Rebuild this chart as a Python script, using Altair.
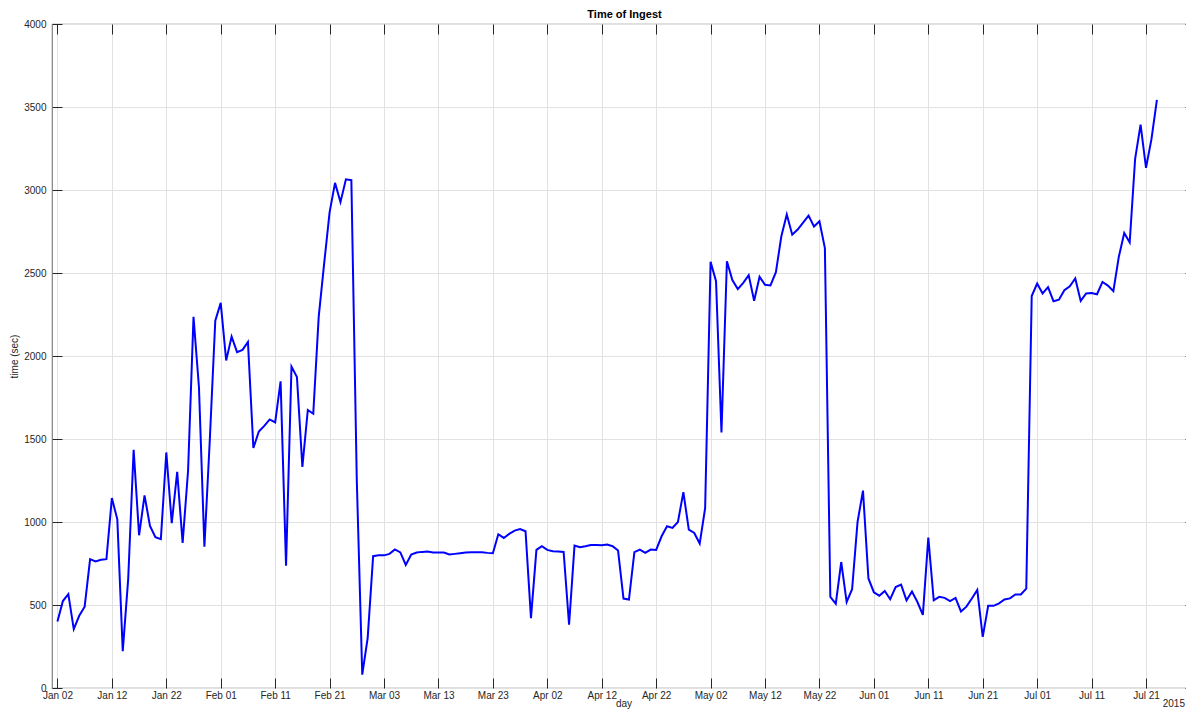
import altair as alt
import pandas as pd

# daily ingest time (sec), 2015
jan_vals = [400, 524, 565, 355, 435, 490, 776, 762, 773, 776, 1144, 1016, 222, 657, 1435,
            920, 1160, 977, 908, 897, 1419, 993, 1302, 874, 1309, 2236, 1812, 851, 1500, 2213]  # Jan 02..31
feb_vals = [2320, 1973, 2117, 2023, 2037, 2085, 1446, 1545, 1579, 1618, 1600, 1847, 737, 1936,
            1874, 1332, 1675, 1652, 2236, 2556, 2865, 3043, 2927, 3064, 3059, 1250, 80, 302]
mar_vals = [794, 799, 799, 808, 835, 817, 741, 804, 816, 820, 822, 816, 816, 816, 804, 808,
            812, 816, 818, 818, 818, 814, 812, 926, 904, 928, 948, 958, 944, 421, 832]
apr_vals = [854, 832, 824, 822, 820, 381, 858, 848, 854, 862, 862, 860, 864, 854, 828, 539,
            533, 818, 834, 814, 834, 832, 914, 974, 964, 1000, 1180, 954, 934, 870]
may_vals = [1084, 2567, 2451, 1539, 2571, 2457, 2403, 2441, 2487, 2333, 2477, 2429, 2425, 2505,
            2721, 2852, 2731, 2762, 2804, 2846, 2780, 2812, 2650, 549, 507, 759, 518, 595,
            1000, 1189, 660]
jun_vals = [577, 556, 585, 535, 608, 623, 528, 581, 518, 440, 906, 528, 549, 543, 524, 543,
            461, 490, 539, 591, 308, 495, 495, 510, 533, 540, 564, 564, 599, 2361]
jul_vals = [2436, 2377, 2415, 2330, 2339, 2396, 2420, 2467, 2332, 2377, 2379, 2372, 2446, 2424,
            2391, 2597, 2741, 2684, 3188, 3394, 3134, 3306, 3543]  # Jul 01..23

months = [(1, 2, jan_vals), (2, 1, feb_vals), (3, 1, mar_vals), (4, 1, apr_vals),
          (5, 1, may_vals), (6, 1, jun_vals), (7, 1, jul_vals)]

x_tick_days = [(1, 2), (1, 12), (1, 22), (2, 1), (2, 11), (2, 21), (3, 3), (3, 13), (3, 23),
               (4, 2), (4, 12), (4, 22), (5, 2), (5, 12), (5, 22), (6, 1), (6, 11), (6, 21),
               (7, 1), (7, 11), (7, 21)]
y_ticks = [0, 500, 1000, 1500, 2000, 2500, 3000, 3500, 4000]

dates, vals = [], []
for m, start, lst in months:
    for i, v in enumerate(lst):
        dates.append(f"2015-{m:02d}-{start + i:02d}")
        vals.append(v)
df = pd.DataFrame({"date": dates, "time": vals})

x_ticks = [alt.DateTime(year=2015, month=m, date=d, utc=True) for m, d in x_tick_days]
x_scale = alt.Scale(type="utc", nice=False,
                    domain=[alt.DateTime(year=2015, month=1, date=1, utc=True),
                            alt.DateTime(year=2015, month=7, date=30, utc=True)])
y_scale = alt.Scale(domain=[0, 4000], nice=False)

FONT = "Liberation Sans"
TXT = "#262626"
W, H = 1143, 664

base = alt.Chart(df)

main = base.mark_line(color="#0000ff", strokeWidth=2).encode(
    x=alt.X("date:T", scale=x_scale,
            axis=alt.Axis(values=x_ticks, format="%b %d", grid=True, ticks=False, tickSize=0,
                          domain=False, labelPadding=2, labelFontSize=10, labelColor=TXT,
                          title="day", titleFontSize=10, titleFontWeight="normal",
                          titleColor=TXT, titlePadding=-2, labelFlush=False)),
    y=alt.Y("time:Q", scale=y_scale,
            axis=alt.Axis(values=y_ticks, format="d", grid=True, ticks=False, tickSize=0,
                          domain=False, labelPadding=6, labelFontSize=10, labelColor=TXT,
                          title="time (sec)", titleFontSize=10, titleFontWeight="normal",
                          titleColor=TXT, titlePadding=4, labelFlush=False)),
)

ticks_bl = base.mark_line(opacity=0).encode(
    x=alt.X("date:T", scale=x_scale,
            axis=alt.Axis(values=x_ticks, orient="bottom", offset=-10, tickSize=10,
                          labels=False, domain=False, grid=False, title="")),
    y=alt.Y("time:Q", scale=y_scale,
            axis=alt.Axis(values=y_ticks, orient="left", offset=-10, tickSize=10,
                          labels=False, domain=False, grid=False, title="")),
)

ticks_tr = base.mark_line(opacity=0).encode(
    x=alt.X("date:T", scale=x_scale,
            axis=alt.Axis(values=x_ticks, orient="top", offset=-10, tickSize=10,
                          labels=False, domain=False, grid=False, title="")),
    y=alt.Y("time:Q", scale=y_scale,
            axis=alt.Axis(values=y_ticks, orient="right", offset=-10, tickSize=10,
                          labels=False, domain=False, grid=False, title="")),
)

year_lbl = alt.Chart(pd.DataFrame({"t": ["2015"]})).mark_text(
    align="right", baseline="alphabetic", font=FONT, fontSize=10, color=TXT
).encode(x=alt.value(1133), y=alt.value(H + 19), text="t:N")

title_lbl = alt.Chart(pd.DataFrame({"t": ["Time of Ingest"]})).mark_text(
    align="center", baseline="alphabetic", font=FONT, fontSize=11, fontWeight="bold",
    color="#000000"
).encode(x=alt.value(W / 2 + 1), y=alt.value(-6), text="t:N")

chart = alt.layer(main, ticks_bl, ticks_tr, year_lbl, title_lbl).resolve_axis(
    x="independent", y="independent"
).properties(
    width=W, height=H,
    autosize=alt.AutoSizeParams(type="none"),
    padding={"left": 44, "top": 16, "right": -9, "bottom": 21},
).configure_view(
    stroke="#808080", strokeWidth=1.2
).configure_axis(
    labelFont=FONT, titleFont=FONT, tickColor=TXT, tickWidth=1,
    gridColor="#e2e2e2", gridWidth=1
)

chart.save("out.html", embed_options={"renderer": "svg", "actions": False})
